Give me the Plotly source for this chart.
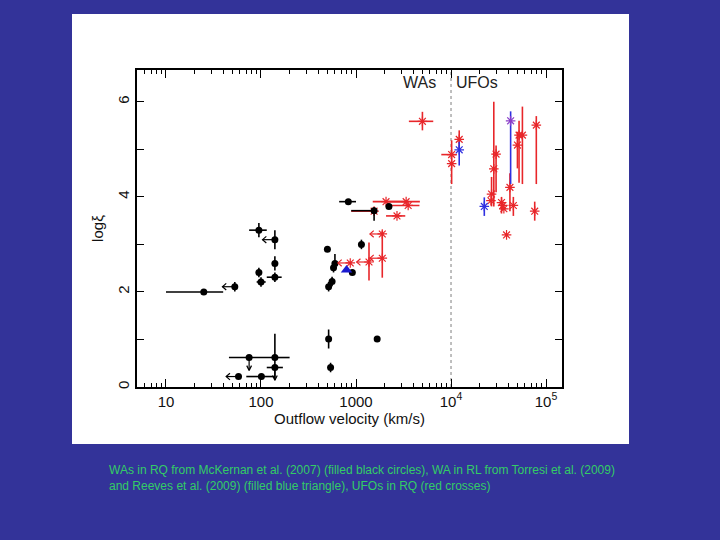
import math
import plotly.graph_objects as go

# Warm absorbers in RQ (McKernan et al. 2007) - black filled circles
wa_v = [25, 53, 95, 140, 140, 95, 100, 140, 500, 580, 600, 560, 515, 915, 1140,
        830, 1550, 2220, 515, 1670, 540, 75, 140, 140, 58, 101]
wa_xi = [2.00, 2.11, 3.30, 3.10, 2.60, 2.41, 2.21, 2.31, 2.90, 2.51, 2.60, 2.22, 2.11,
         2.41, 3.00, 3.90, 3.71, 3.80, 1.01, 1.01, 0.41, 0.62, 0.62, 0.41, 0.22, 0.22]
wa_v_lo = [10, 53, 75, 140, 140, 95, 90, 115, 500, 580, 600, 560, 515, 915, 1140,
           665, 890, 2220, 515, 1670, 540, 46, 140, 115, 58, 70]
wa_v_hi = [40, 53, 115, 140, 140, 95, 112, 165, 500, 580, 600, 560, 515, 915, 1140,
           1000, 1660, 2220, 515, 1670, 540, 140, 200, 170, 58, 140]
wa_xi_lo = [0, 0.1, 0.15, 0.2, 0.15, 0.1, 0.1, 0.1, 0.05, 0.1, 0.1, 0.1, 0.1,
            0.05, 0.1, 0.05, 0.21, 0.05, 0.2, 0.05, 0.1, 0, 0.47, 0, 0.05, 0]
wa_xi_hi = [0, 0.1, 0.15, 0.2, 0.15, 0.1, 0.1, 0.1, 0.05, 0.1, 0.2, 0.1, 0.1,
            0.05, 0.1, 0.05, 0.07, 0.05, 0.2, 0.05, 0.1, 0, 0.5, 0, 0.05, 0]
# upper limits: (index, direction)
wa_limits = [(1, "x"), (3, "x"), (24, "x"), (21, "y"), (23, "y")]

# WA in RL (Torresi et al. 2009, Reeves et al. 2009) - blue triangle
rl_v = [795]
rl_xi = [2.46]

# UFOs / red crosses
red_v = [5000, 2070, 3370, 3540, 1550, 2700, 1890, 1890, 1370, 870,
         10150, 10150, 12200, 26700, 26300, 28200, 29800, 34000, 35000, 36000,
         38400, 41700, 45300, 50000, 52000, 56400, 79000, 76000]
red_xi = [5.59, 3.90, 3.90, 3.82, 3.70, 3.60, 3.22, 2.71, 2.63, 2.61,
          4.89, 4.70, 5.21, 4.06, 3.92, 4.59, 4.90, 3.88, 3.82, 3.75,
          3.20, 4.20, 3.82, 5.09, 5.30, 5.30, 5.51, 3.70]
red_v_lo = [3600, 1500, 2100, 2070, 890, 2070, 1890, 1890, 1370, 870,
            7900, 10150, 12200, 26700, 26300, 28200, 29800, 34000, 35000, 36000,
            38400, 41700, 45300, 50000, 52000, 56400, 79000, 76000]
red_v_hi = [6500, 3300, 4700, 4650, 1550, 3300, 1890, 1890, 1370, 870,
            11500, 10150, 12200, 26700, 26300, 28200, 29800, 34000, 35000, 36000,
            38400, 41700, 45300, 50000, 52000, 56400, 79000, 76000]
red_xi_lo = [5.40, 3.90, 3.90, 3.82, 3.70, 3.60, 2.30, 2.71, 2.24, 2.61,
             4.27, 4.70, 5.00, 3.80, 3.92, 3.80, 4.10, 3.65, 3.82, 3.75,
             3.20, 3.70, 3.60, 4.60, 4.30, 4.27, 4.27, 3.50]
red_xi_hi = [5.79, 3.90, 3.90, 3.82, 3.70, 3.60, 3.29, 2.71, 3.04, 2.61,
             5.19, 4.70, 5.40, 4.42, 3.92, 6.00, 5.08, 4.00, 3.82, 3.75,
             3.20, 4.50, 4.00, 5.37, 5.60, 5.90, 5.70, 3.90]
red_limits = [6, 7, 8, 9]

# blue UFO crosses
blue_v = [12200, 22400, 42400]
blue_xi = [4.99, 3.80, 5.60]
blue_xi_lo = [4.66, 3.60, 4.27]
blue_xi_hi = [5.16, 3.99, 5.80]
blue_marker = ["#3030e0", "#3030e0", "#8a3cc8"]

divide_v = 1e4
x_tickvals = [10, 100, 1000, 1e4, 1e5]
x_ticktext = ["10", "100", "1000", "10<sup>4</sup>", "10<sup>5</sup>"]

caption = ("WAs in RQ from McKernan et al. (2007) (filled black circles), WA in RL from Torresi et al. (2009)<br>"
           "and Reeves et al. (2009) (filled blue triangle), UFOs in RQ (red crosses)")

font_family = "Liberation Sans, Arial, sans-serif"
y_max = 6.67
RED = "#e8262a"


def limit_arrows(vs, ys, dirs):
    # open arrowheads "<" / "v" for upper limits, built in log-velocity space
    xs, yy = [], []
    for v, y, d in zip(vs, ys, dirs):
        lx = math.log10(v)
        if d == "x":
            tx = lx - 0.13
            pts = [(lx, y), (tx, y), None, (tx + 0.04, y + 0.07), (tx, y), (tx + 0.04, y - 0.07), None]
        else:
            ty = y - 0.27
            pts = [(lx, y), (lx, ty), None, (lx - 0.025, ty + 0.1), (lx, ty), (lx + 0.025, ty + 0.1), None]
        for p in pts:
            if p is None:
                xs.append(None)
                yy.append(None)
            else:
                xs.append(10 ** p[0])
                yy.append(p[1])
    return xs, yy


fig = go.Figure()

# dividing line between WAs and UFOs
fig.add_trace(go.Scatter(x=[divide_v, divide_v], y=[0, y_max], mode="lines",
                         line=dict(color="#aaaaaa", width=1.5, dash="dot"),
                         hoverinfo="skip", showlegend=False))

fig.add_trace(go.Scatter(
    x=red_v, y=red_xi, mode="markers",
    marker=dict(symbol="asterisk-open", size=8, color=RED, line=dict(color=RED, width=1.2)),
    error_x=dict(type="data", symmetric=False,
                 array=[h - v for v, h in zip(red_v, red_v_hi)],
                 arrayminus=[v - l for v, l in zip(red_v, red_v_lo)],
                 color=RED, thickness=1.6, width=0),
    error_y=dict(type="data", symmetric=False,
                 array=[h - y for y, h in zip(red_xi, red_xi_hi)],
                 arrayminus=[y - l for y, l in zip(red_xi, red_xi_lo)],
                 color=RED, thickness=1.6, width=0),
    showlegend=False))

fig.add_trace(go.Scatter(
    x=blue_v, y=blue_xi, mode="markers",
    marker=dict(symbol="asterisk-open", size=8, color=blue_marker,
                line=dict(color=blue_marker, width=1.2)),
    error_y=dict(type="data", symmetric=False,
                 array=[h - y for y, h in zip(blue_xi, blue_xi_hi)],
                 arrayminus=[y - l for y, l in zip(blue_xi, blue_xi_lo)],
                 color="#3030e0", thickness=1.6, width=0),
    showlegend=False))

fig.add_trace(go.Scatter(
    x=wa_v, y=wa_xi, mode="markers",
    marker=dict(symbol="circle", size=7, color="black"),
    error_x=dict(type="data", symmetric=False,
                 array=[h - v for v, h in zip(wa_v, wa_v_hi)],
                 arrayminus=[v - l for v, l in zip(wa_v, wa_v_lo)],
                 color="black", thickness=1.6, width=0),
    error_y=dict(type="data", symmetric=False,
                 array=wa_xi_hi, arrayminus=wa_xi_lo,
                 color="black", thickness=1.6, width=0),
    showlegend=False))

# upper-limit arrows
ax_, ay_ = limit_arrows([wa_v[i] for i, _ in wa_limits], [wa_xi[i] for i, _ in wa_limits],
                        [d for _, d in wa_limits])
fig.add_trace(go.Scatter(x=ax_, y=ay_, mode="lines", line=dict(color="black", width=1.2),
                         hoverinfo="skip", showlegend=False))
rx_, ry_ = limit_arrows([red_v[i] for i in red_limits], [red_xi[i] for i in red_limits],
                        ["x"] * len(red_limits))
fig.add_trace(go.Scatter(x=rx_, y=ry_, mode="lines", line=dict(color=RED, width=1.2),
                         hoverinfo="skip", showlegend=False))

fig.add_trace(go.Scatter(
    x=rl_v, y=rl_xi, mode="markers",
    marker=dict(symbol="triangle-up", size=10, color="#1a1ad0"),
    showlegend=False))

annotations = [
    dict(x=math.log10(divide_v) - 0.33, y=6.41, xref="x", yref="y",
         text="WAs", showarrow=False,
         font=dict(size=16, color="#222222", family=font_family)),
    dict(x=math.log10(divide_v) + 0.27, y=6.41, xref="x", yref="y",
         text="UFOs", showarrow=False,
         font=dict(size=16, color="#222222", family=font_family)),
    dict(x=-0.07, y=-0.235, xref="paper", yref="paper",
         xanchor="left", yanchor="top", align="left",
         text=caption, showarrow=False,
         font=dict(size=12, color="#33cc66", family=font_family)),
]

x_minor = [k * 10 ** e for e in range(0, 6) for k in range(2, 10)]

fig.update_layout(
    width=720, height=540,
    margin=dict(l=137, r=158, t=70, b=153),
    paper_bgcolor="#333399",
    plot_bgcolor="white",
    font=dict(family=font_family, color="#111111"),
    annotations=annotations,
    shapes=[dict(type="rect", xref="paper", yref="paper", layer="below",
                 x0=(72 - 137) / 425, x1=(629 - 137) / 425,
                 y0=(387 - 444) / 317, y1=(387 - 14) / 317,
                 fillcolor="white", line=dict(width=0))],
    xaxis=dict(type="log", range=[0.695, 5.168], showgrid=False, zeroline=False,
               tickvals=x_tickvals, ticktext=x_ticktext, ticks="inside", ticklen=8,
               tickcolor="black", showline=True, linecolor="black", linewidth=1.5,
               mirror="allticks", tickfont=dict(size=15),
               minor=dict(tickvals=x_minor, ticks="inside", ticklen=4, tickcolor="black"),
               title=dict(text="Outflow velocity (km/s)", font=dict(size=15), standoff=0)),
    yaxis=dict(range=[0, y_max], showgrid=False, zeroline=False, dtick=2,
               ticks="inside", ticklen=7, tickcolor="black", showline=True,
               linecolor="black", linewidth=1.5, mirror="allticks", tickangle=-90,
               tickfont=dict(size=15),
               minor=dict(dtick=1, ticks="inside", ticklen=7, tickcolor="black"),
               title=dict(text="logξ", font=dict(size=15), standoff=8)),
)

fig.write_html("out.html", config={"displayModeBar": False},
               post_script="document.body.style.margin='0';")
